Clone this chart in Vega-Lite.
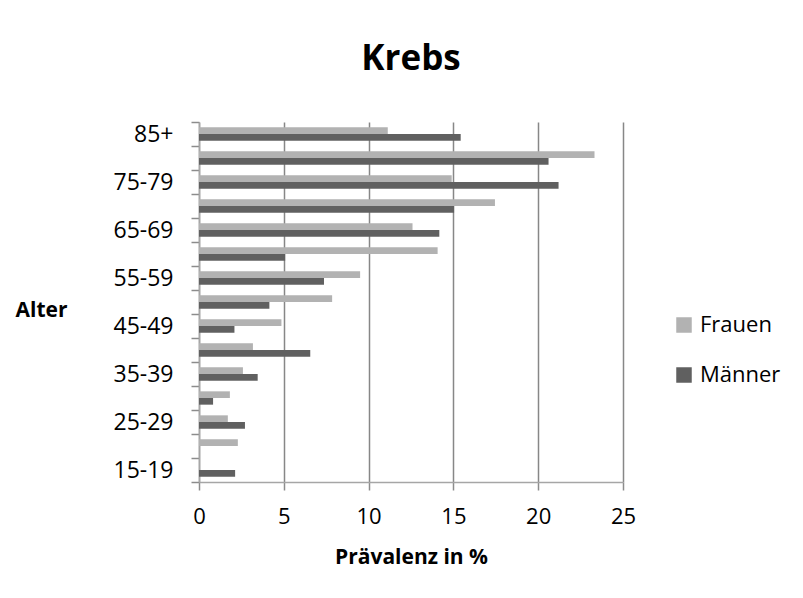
{
  "$schema": "https://vega.github.io/schema/vega-lite/v6.json",
  "width": 424,
  "height": 360,
  "autosize": "none",
  "padding": {"left": 199, "top": 122, "right": 180, "bottom": 116},
  "background": "white",
  "title": {
    "text": "Krebs",
    "font": "Open Sans",
    "fontSize": 35,
    "fontWeight": "bold",
    "color": "black",
    "anchor": "middle",
    "baseline": "alphabetic",
    "offset": 6
  },
  "config": {
    "view": {"stroke": null},
    "font": "Open Sans"
  },
  "data": {
    "values": [
      {"Alter": "85+", "Geschlecht": "Frauen", "Wert": 11.13},
      {"Alter": "85+", "Geschlecht": "Männer", "Wert": 15.43},
      {"Alter": "80-84", "Geschlecht": "Frauen", "Wert": 23.32},
      {"Alter": "80-84", "Geschlecht": "Männer", "Wert": 20.61},
      {"Alter": "75-79", "Geschlecht": "Frauen", "Wert": 14.9},
      {"Alter": "75-79", "Geschlecht": "Männer", "Wert": 21.2},
      {"Alter": "70-74", "Geschlecht": "Frauen", "Wert": 17.45},
      {"Alter": "70-74", "Geschlecht": "Männer", "Wert": 15.04},
      {"Alter": "65-69", "Geschlecht": "Frauen", "Wert": 12.59},
      {"Alter": "65-69", "Geschlecht": "Männer", "Wert": 14.17},
      {"Alter": "60-64", "Geschlecht": "Frauen", "Wert": 14.07},
      {"Alter": "60-64", "Geschlecht": "Männer", "Wert": 5.08},
      {"Alter": "55-59", "Geschlecht": "Frauen", "Wert": 9.5},
      {"Alter": "55-59", "Geschlecht": "Männer", "Wert": 7.37},
      {"Alter": "50-54", "Geschlecht": "Frauen", "Wert": 7.85},
      {"Alter": "50-54", "Geschlecht": "Männer", "Wert": 4.15},
      {"Alter": "45-49", "Geschlecht": "Frauen", "Wert": 4.86},
      {"Alter": "45-49", "Geschlecht": "Männer", "Wert": 2.09},
      {"Alter": "40-44", "Geschlecht": "Frauen", "Wert": 3.18},
      {"Alter": "40-44", "Geschlecht": "Männer", "Wert": 6.56},
      {"Alter": "35-39", "Geschlecht": "Frauen", "Wert": 2.59},
      {"Alter": "35-39", "Geschlecht": "Männer", "Wert": 3.46},
      {"Alter": "30-34", "Geschlecht": "Frauen", "Wert": 1.82},
      {"Alter": "30-34", "Geschlecht": "Männer", "Wert": 0.83},
      {"Alter": "25-29", "Geschlecht": "Frauen", "Wert": 1.7},
      {"Alter": "25-29", "Geschlecht": "Männer", "Wert": 2.71},
      {"Alter": "20-24", "Geschlecht": "Frauen", "Wert": 2.29},
      {"Alter": "20-24", "Geschlecht": "Männer", "Wert": 0},
      {"Alter": "15-19", "Geschlecht": "Frauen", "Wert": 0},
      {"Alter": "15-19", "Geschlecht": "Männer", "Wert": 2.13}
    ]
  },
  "mark": {"type": "bar"},
  "encoding": {
    "y": {
      "field": "Alter",
      "type": "nominal",
      "scale": {
        "domain": ["85+", "80-84", "75-79", "70-74", "65-69", "60-64", "55-59", "50-54", "45-49", "40-44", "35-39", "30-34", "25-29", "20-24", "15-19"],
        "paddingInner": 0,
        "paddingOuter": 0
      },
      "axis": {
        "title": "Alter",
        "titleFont": "Open Sans",
        "titleFontSize": 21,
        "titleFontWeight": "bold",
        "titleColor": "black",
        "titleAngle": 0,
        "titleAlign": "left",
        "titleBaseline": "middle",
        "titleX": -184,
        "titleY": 188,
        "labelFont": "Open Sans",
        "labelFontSize": 23,
        "labelColor": "black",
        "labelPadding": 18,
        "labelExpr": "indexof(['15-19','25-29','35-39','45-49','55-59','65-69','75-79','85+'], datum.value) >= 0 ? datum.value : ''",
        "tickBand": "extent",
        "tickSize": 8,
        "tickColor": "#8c8c8c",
        "tickWidth": 1.5,
        "domainColor": "#a6a6a6",
        "domainWidth": 1.5,
        "grid": false
      }
    },
    "yOffset": {
      "field": "Geschlecht",
      "type": "nominal",
      "scale": {"domain": ["Frauen", "Männer"], "paddingInner": 0, "paddingOuter": 0.8}
    },
    "x": {
      "field": "Wert",
      "type": "quantitative",
      "scale": {"domain": [0, 25], "nice": false},
      "axis": {
        "title": "Prävalenz in %",
        "titleFont": "Open Sans",
        "titleFontSize": 21,
        "titleFontWeight": "bold",
        "titleColor": "black",
        "titleBaseline": "middle",
        "titleY": 75,
        "values": [0, 5, 10, 15, 20, 25],
        "labelFont": "Open Sans",
        "labelFontSize": 22,
        "labelColor": "black",
        "labelPadding": 16,
        "labelFlush": false,
        "tickSize": 8,
        "tickColor": "#8c8c8c",
        "tickWidth": 1.5,
        "domainColor": "#a6a6a6",
        "domainWidth": 1.5,
        "grid": true,
        "gridColor": "#878787",
        "gridWidth": 1.5
      }
    },
    "color": {
      "field": "Geschlecht",
      "type": "nominal",
      "scale": {"domain": ["Frauen", "Männer"], "range": ["#b2b2b2", "#606060"]},
      "legend": {
        "title": null,
        "orient": "none",
        "legendX": 474,
        "legendY": 192,
        "symbolType": "square",
        "symbolSize": 240,
        "symbolStrokeWidth": 0,
        "symbolOpacity": 1,
        "labelFont": "Open Sans",
        "labelFontSize": 22,
        "labelColor": "black",
        "labelOffset": 5,
        "rowPadding": 28
      }
    }
  }
}
